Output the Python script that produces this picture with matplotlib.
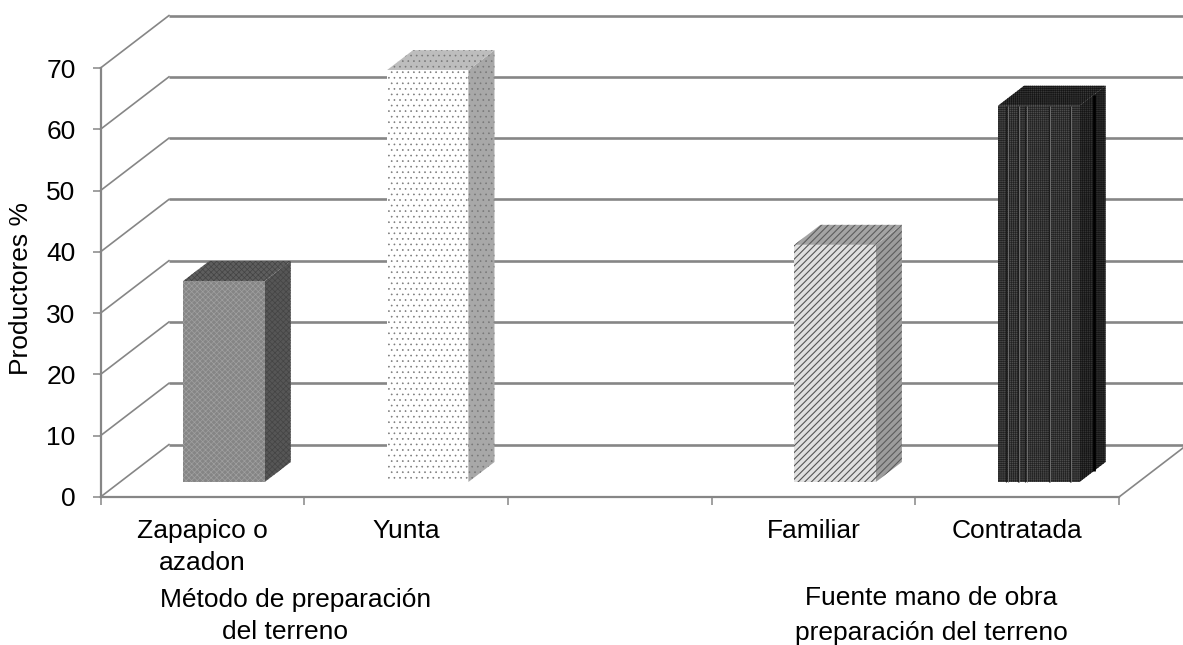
import matplotlib
matplotlib.use('Agg')
import matplotlib.pyplot as plt
from matplotlib.patches import Polygon

plt.rcParams['font.family'] = ['Liberation Sans', 'DejaVu Sans']
plt.rcParams['font.size'] = 19

# datos
categorias = ['Zapapico o\nazadon', 'Yunta', '', 'Familiar', 'Contratada']
valores = [32.8, 67.2, None, 38.7, 61.4]
yticks = [0, 10, 20, 30, 40, 50, 60, 70]

# colores: frente, arriba, lado y sus tramas
colores_frente = ['#858585', '#ffffff', None, '#e0e0e0', '#4c4c4c']
tramas_frente = ['xxxxxx', '...', None, '/////', '||||||||--------']
color_trama_frente = ['#a0a0a0', '#7a7a7a', None, '#555555', '#222222']
grosor_trama = [0.5, 0.45, None, 0.8, 0.45]
colores_arriba = ['#5e5e5e', '#bdbdbd', None, '#a4a4a4', '#383838']
colores_lado = ['#565656', '#a8a8a8', None, '#9c9c9c', '#333333']
color_trama_lado = ['#444444', '#777777', None, '#5c5c5c', '#151515']

# rayas verticales de la ultima barra (fraccion del ancho)
rayas_frente = [0.10, 0.24, 0.33, 0.62, 0.88]
raya_lado = 0.55

GRIS = '#868686'
DX = 0.336  # profundidad en unidades de categoria
DY = 8.56   # profundidad en unidades de valor
D0, D1 = 0.286, 0.667
ANCHO = 0.40


def proy(x, y, d):
    return (x + d * DX, y + d * DY)


fig = plt.figure(figsize=(11.83, 6.45), dpi=100)
ax = fig.add_axes([100.5 / 1183, 1 - 497 / 645, 1018.5 / 1183, 429 / 645])
ax.set_xlim(0, 5)
ax.set_ylim(0, 70)

# paredes
for v in yticks:
    a = proy(0, v, 0)
    b = proy(0, v, 1)
    c = proy(5, v, 1)
    ax.plot([a[0], b[0]], [a[1], b[1]], color=GRIS, lw=1.2, clip_on=False, zorder=1)
    ax.plot([b[0], c[0]], [b[1], c[1]], color=GRIS, lw=1.9, clip_on=False, zorder=1,
            solid_capstyle='butt')
a = proy(5, 0, 0)
b = proy(5, 0, 1)
ax.plot([a[0], b[0]], [a[1], b[1]], color=GRIS, lw=1.2, clip_on=False, zorder=1)

# barras
for i, v in enumerate(valores):
    if v is None:
        continue
    plt.rcParams['hatch.linewidth'] = grosor_trama[i]
    x0 = i + 0.31
    x1 = x0 + ANCHO
    frente = [proy(x0, 0, D0), proy(x1, 0, D0), proy(x1, v, D0), proy(x0, v, D0)]
    arriba = [proy(x0, v, D0), proy(x1, v, D0), proy(x1, v, D1), proy(x0, v, D1)]
    lado = [proy(x1, 0, D0), proy(x1, 0, D1), proy(x1, v, D1), proy(x1, v, D0)]
    ax.add_patch(Polygon(lado, facecolor=colores_lado[i], edgecolor=color_trama_lado[i],
                         hatch=tramas_frente[i], lw=0, clip_on=False, zorder=3))
    ax.add_patch(Polygon(arriba, facecolor=colores_arriba[i], edgecolor=color_trama_lado[i],
                         hatch=tramas_frente[i], lw=0, clip_on=False, zorder=3))
    ax.add_patch(Polygon(frente, facecolor=colores_frente[i], edgecolor=color_trama_frente[i],
                         hatch=tramas_frente[i], lw=0, clip_on=False, zorder=4))

# rayas de la barra Contratada
i = 4
v = valores[i]
x0 = i + 0.31
for f in rayas_frente:
    p = proy(x0 + f * ANCHO, 0, D0)
    q = proy(x0 + f * ANCHO, v, D0)
    ax.plot([p[0], q[0]], [p[1], q[1]], color='#1c1c1c', lw=0.8, zorder=5, clip_on=False,
            solid_capstyle='butt')
    ax.plot([p[0] + 0.008, q[0] + 0.008], [p[1], q[1]], color='#6e6e6e', lw=0.7, zorder=5,
            clip_on=False, solid_capstyle='butt')
d = D0 + raya_lado * (D1 - D0)
p = proy(x0 + ANCHO, 0, d)
q = proy(x0 + ANCHO, v, d)
ax.plot([p[0], q[0]], [p[1], q[1]], color='#000000', lw=2.0, zorder=5, clip_on=False,
        solid_capstyle='butt')

for s in ['top', 'right']:
    ax.spines[s].set_visible(False)
for s in ['left', 'bottom']:
    ax.spines[s].set_color(GRIS)
    ax.spines[s].set_linewidth(1.6)
    ax.spines[s].set_zorder(6)

ax.set_yticks(yticks)
ax.set_xticks(range(6))
ax.set_xticklabels([])
ax.set_xticks([i + 0.5 for i in range(5)], minor=True)
ax.set_xticklabels(categorias, minor=True, linespacing=1.42)
ax.tick_params(axis='both', which='major', color=GRIS, width=1.1, length=6)
ax.tick_params(axis='y', pad=12)
ax.tick_params(axis='x', which='minor', length=0, pad=16)

ax.set_ylabel('Productores %')
ax.yaxis.set_label_coords(-0.066, 0.485)

fig.text(296 / 1183, 1 - 600 / 645, 'Método de preparación', ha='center', va='center')
fig.text(285.5 / 1183, 1 - 632 / 645, 'del terreno', ha='center', va='center')
fig.text(931 / 1183, 1 - 598 / 645, 'Fuente mano de obra', ha='center', va='center')
fig.text(931 / 1183, 1 - 633 / 645, 'preparación del terreno', ha='center', va='center')

fig.savefig('out.png', dpi=100)
